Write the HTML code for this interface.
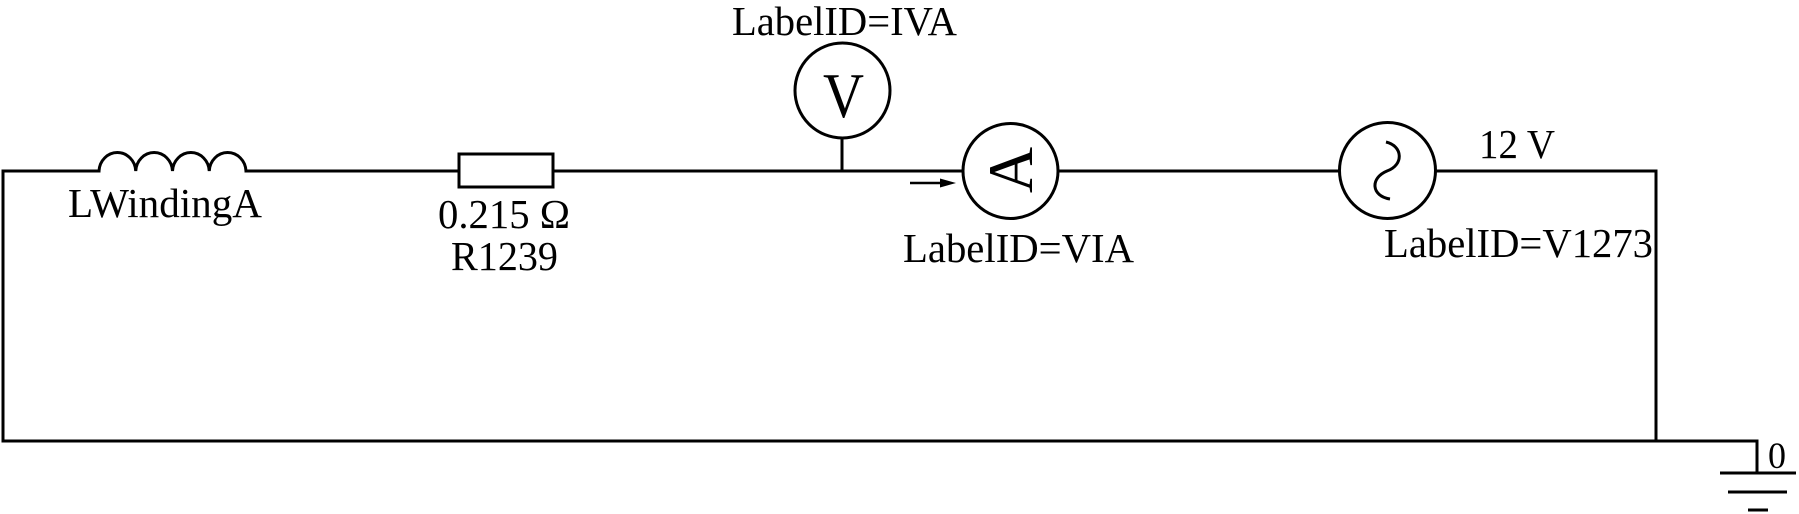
<!DOCTYPE html>
<html>
<head>
<meta charset="utf-8">
<style>
  html, body { margin: 0; padding: 0; background: #ffffff; }
  svg { display: block; }
  text { font-family: "Liberation Serif", "DejaVu Serif", serif; fill: #000; }
</style>
</head>
<body>
<svg width="1799" height="514" viewBox="0 0 1799 514" xmlns="http://www.w3.org/2000/svg">
  <g fill="none" stroke="#000" stroke-width="3" stroke-linecap="square" stroke-linejoin="miter">
    <!-- left loop + top wire to inductor -->
    <polyline points="99,171 3,171 3,441 1757,441 1757,473" />
    <!-- inductor -->
    <path d="M99,171 A18.4,19.5 0 0 1 135.75,171 A18.4,19.5 0 0 1 172.5,171 A18.4,19.5 0 0 1 209.25,171 A18.4,19.5 0 0 1 246,171" stroke-linecap="butt"/>
    <!-- wire inductor -> resistor -->
    <line x1="246" y1="171" x2="459" y2="171" />
    <!-- resistor -->
    <rect x="459" y="154" width="94" height="33" />
    <!-- wire resistor -> ammeter -->
    <line x1="553" y1="171" x2="962" y2="171" />
    <!-- voltmeter stem -->
    <line x1="842" y1="138" x2="842" y2="171" stroke-linecap="butt"/>
    <!-- voltmeter -->
    <circle cx="842.5" cy="90.5" r="47.5" />
    <!-- ammeter -->
    <circle cx="1010.5" cy="171" r="47.5" />
    <!-- wire ammeter -> source -->
    <line x1="1059" y1="171" x2="1339" y2="171" />
    <!-- source -->
    <circle cx="1387.5" cy="170.5" r="48" />
    <path d="M1386,142 C1403,146 1404,165 1387,171 C1370,178 1371,196 1390,199" stroke-linecap="butt"/>
    <!-- wire source -> right, down -->
    <polyline points="1436,171 1656,171 1656,441" />
    <!-- ground -->
    <line x1="1720" y1="473" x2="1796" y2="473" stroke-linecap="butt"/>
    <line x1="1728" y1="492" x2="1787" y2="492" stroke-linecap="butt"/>
    <line x1="1748" y1="510" x2="1768" y2="510" stroke-linecap="butt"/>
    <!-- current arrow -->
    <line x1="910" y1="183" x2="943" y2="183" stroke-width="2.5" stroke-linecap="butt"/>
  </g>
  <polygon points="940,178.5 956,183 940,187.5" fill="#000"/>

  <!-- labels -->
  <text x="68" y="217" font-size="41" textLength="194" lengthAdjust="spacingAndGlyphs">LWindingA</text>
  <text x="438" y="228" font-size="41" textLength="132" lengthAdjust="spacingAndGlyphs">0.215 Ω</text>
  <text x="451" y="270" font-size="41" textLength="107" lengthAdjust="spacingAndGlyphs">R1239</text>
  <text x="732" y="35" font-size="41" textLength="225" lengthAdjust="spacingAndGlyphs">LabelID=IVA</text>
  <text x="903" y="262" font-size="41" textLength="231" lengthAdjust="spacingAndGlyphs">LabelID=VIA</text>
  <text x="1479" y="158" font-size="41" textLength="76" lengthAdjust="spacingAndGlyphs">12 V</text>
  <text x="1384" y="257" font-size="41" textLength="269" lengthAdjust="spacingAndGlyphs">LabelID=V1273</text>
  <text x="1768" y="468" font-size="37" textLength="18" lengthAdjust="spacingAndGlyphs">0</text>

  <!-- meter letters -->
  <text x="823" y="117" font-size="64" textLength="41" lengthAdjust="spacingAndGlyphs">V</text>
  <text x="1010" y="192" font-size="64" text-anchor="middle" transform="rotate(-90 1010 170)">A</text>
</svg>
</body>
</html>
